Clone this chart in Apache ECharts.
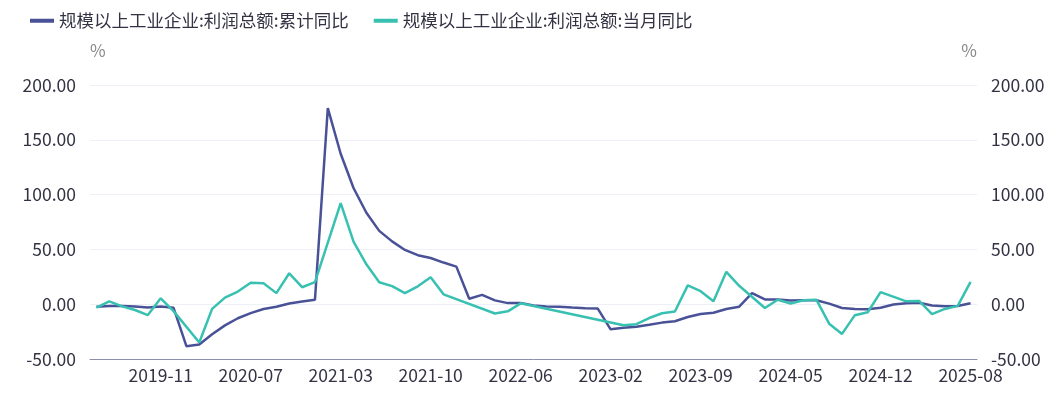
<!DOCTYPE html>
<html>
<head>
<meta charset="utf-8">
<script src="https://cdn.jsdelivr.net/npm/echarts@6/dist/echarts.min.js"></script>
<style>
  html, body { margin: 0; padding: 0; background: #fff; }
  #main { width: 1056px; height: 399px; }
</style>
</head>
<body>
<div id="main"></div>
<script>
// 月份（无1月数据）
var months = [
    '2019-06', '2019-07', '2019-08', '2019-09', '2019-10', '2019-11', '2019-12',
    '2020-02', '2020-03', '2020-04', '2020-05', '2020-06', '2020-07', '2020-08', '2020-09', '2020-10', '2020-11', '2020-12',
    '2021-02', '2021-03', '2021-04', '2021-05', '2021-06', '2021-07', '2021-08', '2021-09', '2021-10', '2021-11', '2021-12',
    '2022-02', '2022-03', '2022-04', '2022-05', '2022-06', '2022-07', '2022-08', '2022-09', '2022-10', '2022-11', '2022-12',
    '2023-02', '2023-03', '2023-04', '2023-05', '2023-06', '2023-07', '2023-08', '2023-09', '2023-10', '2023-11', '2023-12',
    '2024-02', '2024-03', '2024-04', '2024-05', '2024-06', '2024-07', '2024-08', '2024-09', '2024-10', '2024-11', '2024-12',
    '2025-02', '2025-03', '2025-04', '2025-05', '2025-06', '2025-07', '2025-08'
];

// 累计同比
var cumulative = [
    -2.4, -1.7, -1.7, -2.1, -2.9, -2.1, -3.3,
    -38.3, -36.7, -27.4, -19.3, -12.8, -8.1, -4.4, -2.4, 0.7, 2.4, 4.1,
    178.9, 137.3, 106.0, 83.4, 66.9, 57.3, 49.5, 44.7, 42.2, 38.0, 34.3,
    5.0, 8.5, 3.5, 1.0, 1.0, -1.1, -2.1, -2.3, -3.0, -3.6, -4.0,
    -22.9, -21.4, -20.6, -18.8, -16.8, -15.5, -11.7, -9.0, -7.8, -4.4, -2.3,
    10.2, 4.3, 4.3, 3.4, 3.5, 3.6, 0.5, -3.5, -4.3, -4.7, -3.3,
    -0.3, 0.8, 1.4, -1.1, -1.8, -1.7, 0.9
];

// 当月同比（缺失月份为 null）
var monthly = [
    -3.1, 2.6, -2.0, -5.3, -9.9, 5.4, -6.3,
    null, -34.9, -4.3, 6.0, 11.5, 19.6, 19.1, 10.1, 28.2, 15.5, 20.1,
    null, 92.3, 57.0, 36.4, 20.0, 16.5, 10.1, 16.3, 24.6, 9.0, null,
    null, null, -8.5, -6.5, 0.8, null, null, null, null, null, null,
    null, -19.2, -18.2, -12.6, -8.3, -6.7, 17.2, 11.9, 2.7, 29.5, 16.8,
    null, -3.5, 4.0, 0.7, 3.6, 4.1, -17.8, -27.1, -10.0, -7.3, 11.0,
    null, 2.6, 3.0, -9.1, -4.3, -1.5, 20.4
];

var seriesNames = ['规模以上工业企业:利润总额:累计同比', '规模以上工业企业:利润总额:当月同比'];
var colors = ['#4a5297', '#38c0b1'];

var fontFamily = '"Noto Sans CJK SC", "Noto Sans", sans-serif';
var textColor = '#333344';
var fontSize = 17.5;

function yAxisConf(pos) {
    return {
        type: 'value',
        position: pos,
        min: -50,
        max: 200,
        interval: 50,
        name: '%',
        nameLocation: 'end',
        nameGap: 26,
        nameTextStyle: {
            color: '#888888',
            fontSize: 17,
            fontFamily: fontFamily,
            align: pos === 'left' ? 'left' : 'right'
        },
        axisLine: { show: false },
        axisTick: { show: false },
        axisLabel: {
            color: textColor,
            fontSize: fontSize,
            fontFamily: fontFamily,
            margin: 14,
            formatter: function (v) { return v.toFixed(2); }
        },
        splitLine: {
            show: pos === 'left',
            lineStyle: { color: '#eef0f7', width: 1 }
        }
    };
}

var myChart = echarts.init(document.getElementById('main'));
var option = {
    animation: false,
    color: colors,
    legend: {
        left: 25,
        top: 7,
        icon: 'rect',
        itemWidth: 24,
        itemHeight: 4,
        itemGap: 25,
        textStyle: {
            color: textColor,
            fontSize: fontSize,
            fontFamily: fontFamily
        },
        data: seriesNames
    },
    grid: {
        left: 90,
        right: 79,
        top: 85,
        bottom: 40,
        containLabel: false
    },
    xAxis: {
        type: 'category',
        data: months,
        boundaryGap: true,
        axisLine: { onZero: false, lineStyle: { color: '#8a90ae', width: 1 } },
        axisTick: { show: false },
        axisLabel: {
            color: textColor,
            fontSize: fontSize,
            fontFamily: fontFamily,
            margin: 8,
            interval: function (index) { return (months.length - 1 - index) % 7 === 0; }
        }
    },
    yAxis: [yAxisConf('left'), yAxisConf('right')],
    series: [
        {
            name: seriesNames[0],
            type: 'line',
            data: cumulative,
            showSymbol: false,
            symbol: 'none',
            lineStyle: { width: 2.5, color: colors[0] }
        },
        {
            name: seriesNames[1],
            type: 'line',
            data: monthly,
            connectNulls: true,
            showSymbol: false,
            symbol: 'none',
            lineStyle: { width: 2.5, color: colors[1] }
        }
    ]
};
myChart.setOption(option);
</script>
</body>
</html>
